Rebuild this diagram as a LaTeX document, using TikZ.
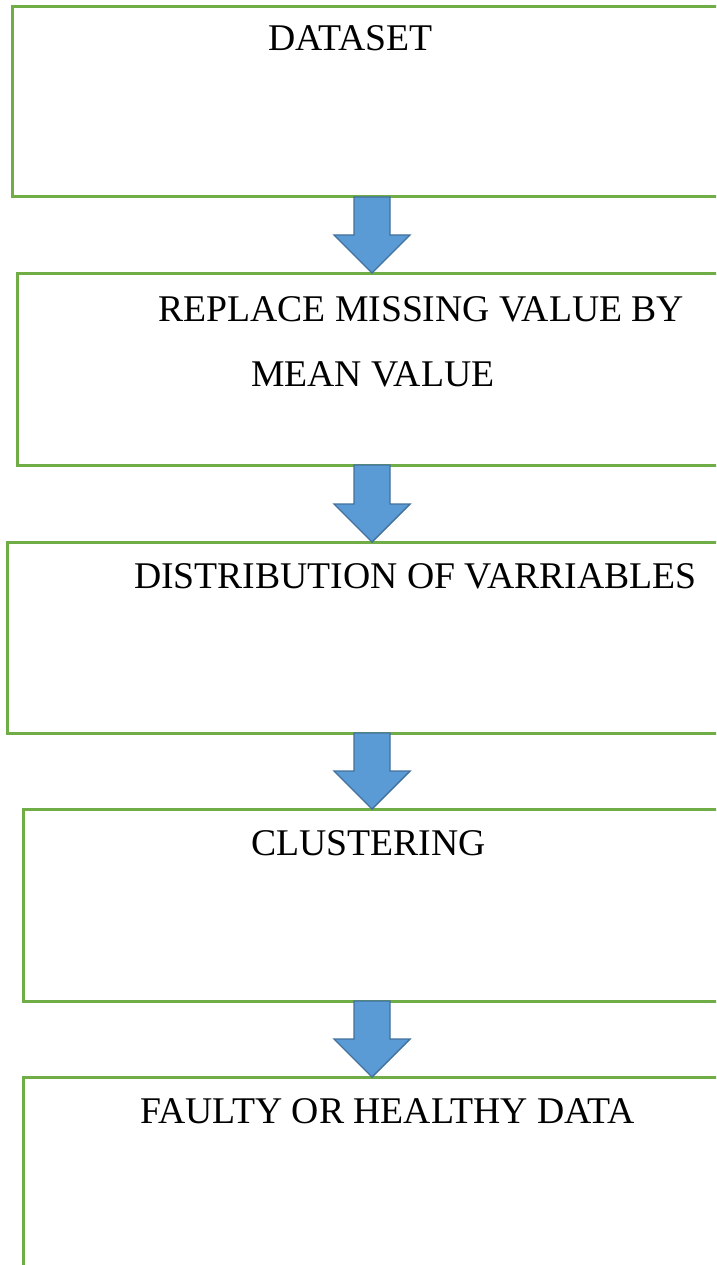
\documentclass[tikz,border=0pt]{standalone}
\usepackage{fontspec}
\setmainfont{Liberation Serif}
\usetikzlibrary{calc}
\definecolor{boxgreen}{HTML}{70AD47}
\definecolor{arrfill}{HTML}{5B9BD5}
\definecolor{arrline}{HTML}{41719C}
\tikzset{
  flowbox/.style={draw=boxgreen, line width=3pt, rectangle, inner sep=0pt, outer sep=0pt, anchor=north west, fill=white},
  lbl/.style={anchor=base west, inner sep=0pt, outer sep=0pt, font=\fontsize{37.7}{45}\selectfont},
  blockarrow/.style={fill=arrfill, draw=arrline, line width=1.4pt, line join=miter}
}
\newcommand{\blockarr}[2]{%
  \filldraw[blockarrow] let \p1=(#1.south -| ax), \p2=(#2.north -| ax) in
    (\x1-18pt,\y1) -- (\x1+18pt,\y1) -- (\x1+18pt,\y2+38pt) -- (\x1+38pt,\y2+38pt)
    -- (\x2,\y2) -- (\x1-38pt,\y2+38pt) -- (\x1-18pt,\y2+38pt) -- cycle;}
\begin{document}
\begin{tikzpicture}[x=1pt,y=-1pt]
\useasboundingbox (0,0) rectangle (716,1265);
\clip (0,0) rectangle (716,1265);
\coordinate (ax) at (372,0);
\node[flowbox, minimum width=718pt, minimum height=190pt] (b1) at (12,7) {};
\node[flowbox, minimum width=713pt, minimum height=192pt] (b2) at (17,273) {};
\node[flowbox, minimum width=723pt, minimum height=191pt] (b3) at (7,542) {};
\node[flowbox, minimum width=707pt, minimum height=192pt] (b4) at (23,809) {};
\node[flowbox, minimum width=707pt, minimum height=230pt] (b5) at (23,1077) {};
\node[lbl] (t1) at (268,51) {DATASET};
\node[lbl] (t2a) at (158,321) {REPLACE MISSING VALUE BY};
\node[lbl] (t2b) at (251,386) {MEAN VALUE};
\node[lbl] (t3) at (134,588) {DISTRIBUTION OF VARRIABLES};
\node[lbl] (t4) at (251,855) {CLUSTERING};
\node[lbl] (t5) at (140,1123) {FAULTY OR HEALTHY DATA};
\blockarr{b1}{b2}
\blockarr{b2}{b3}
\blockarr{b3}{b4}
\blockarr{b4}{b5}
\end{tikzpicture}
\end{document}
